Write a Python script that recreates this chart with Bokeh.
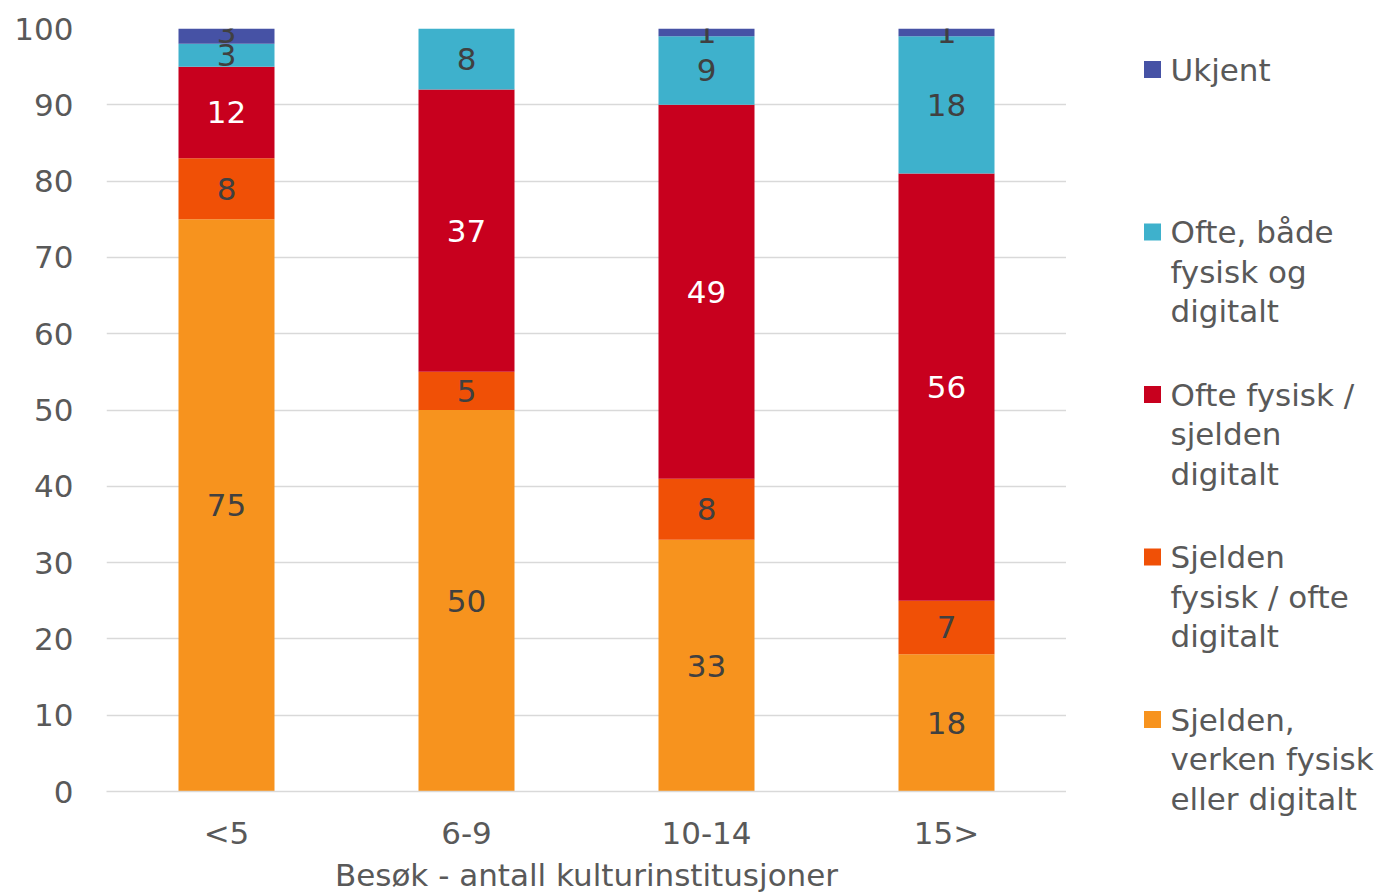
import numpy as np
from bokeh.plotting import figure
from bokeh.layouts import row
from bokeh.models import Range1d, FactorRange, FixedTicker, ColumnDataSource
from bokeh.core.properties import value
from bokeh.embed import file_html
from bokeh.resources import INLINE

categories = ["<5", "6-9", "10-14", "15>"]
series_names = [
    "Sjelden, verken fysisk eller digitalt",
    "Sjelden fysisk / ofte digitalt",
    "Ofte fysisk / sjelden digitalt",
    "Ofte, både fysisk og digitalt",
    "Ukjent",
]
sjelden_verken = [75, 50, 33, 18]
sjelden_fysisk_ofte_digitalt = [8, 5, 8, 7]
ofte_fysisk_sjelden_digitalt = [12, 37, 49, 56]
ofte_begge = [3, 8, 9, 18]
ukjent = [3, 0, 1, 1]
y_ticks = [0, 10, 20, 30, 40, 50, 60, 70, 80, 90, 100]

legend_lines = [
    ["Ukjent"],
    ["Ofte, både", "fysisk og", "digitalt"],
    ["Ofte fysisk /", "sjelden", "digitalt"],
    ["Sjelden", "fysisk / ofte", "digitalt"],
    ["Sjelden,", "verken fysisk", "eller digitalt"],
]

colors = ["#F7931E", "#F05006", "#C8001E", "#3EB1CC", "#4652A5"]
label_colors = ["#404040", "#404040", "#FFFFFF", "#404040", "#404040"]
FONT = "DejaVu Sans"
FS = "31px"

series = [sjelden_verken, sjelden_fysisk_ofte_digitalt, ofte_fysisk_sjelden_digitalt, ofte_begge, ukjent]
keys = ["s0", "s1", "s2", "s3", "s4"]
data = {"cat": categories}
for k, s in zip(keys, series):
    data[k] = s
source = ColumnDataSource(data)

H = 896
TOP, BOTTOM = 28, 105
p = figure(
    x_range=FactorRange(*categories, range_padding=0),
    y_range=Range1d(0, 100),
    width=1066, height=H,
    min_border_left=106, min_border_top=TOP, min_border_right=0, min_border_bottom=BOTTOM,
    output_backend="svg", toolbar_location=None,
)
p.frame_align = False
p.vbar_stack(keys, x="cat", width=0.4, color=colors, line_color=None, source=source)

# data labels
arr = np.array(series, dtype=float)
cum = np.cumsum(arr, axis=0)
xs, ys, txt, tc = [], [], [], []
for i in range(arr.shape[0]):
    for j, c in enumerate(categories):
        v = arr[i, j]
        if v <= 0:
            continue
        xs.append(c)
        ys.append(cum[i, j] - v / 2)
        txt.append(str(int(v)))
        tc.append(label_colors[i])
p.text(x=xs, y=ys, text=txt, text_color=tc, text_align="center", text_baseline="middle",
       text_font=value(FONT), text_font_size=FS)

p.outline_line_color = None
p.xgrid.grid_line_color = None
p.ygrid.grid_line_color = "#D9D9D9"
p.ygrid.grid_line_width = 1.5
p.yaxis.ticker = FixedTicker(ticks=y_ticks)
p.yaxis.axis_line_color = None
p.yaxis.major_tick_line_color = None
p.yaxis.minor_tick_line_color = None
p.yaxis.major_label_standoff = 27
p.yaxis.major_label_text_font = FONT
p.yaxis.major_label_text_font_size = FS
p.yaxis.major_label_text_color = "#595959"

p.xaxis.axis_line_color = "#D9D9D9"
p.xaxis.axis_line_width = 1.5
p.xaxis.major_tick_line_color = None
p.xaxis.minor_tick_line_color = None
p.xaxis.major_label_standoff = 17
p.xaxis.major_label_text_font = FONT
p.xaxis.major_label_text_font_size = FS
p.xaxis.major_label_text_color = "#595959"
p.xaxis.axis_label = "Besøk - antall kulturinstitusjoner"
p.xaxis.axis_label_text_font = FONT
p.xaxis.axis_label_text_font_size = FS
p.xaxis.axis_label_text_font_style = "normal"
p.xaxis.axis_label_text_color = "#595959"
p.xaxis.axis_label_standoff = 3

# legend panel: its own full-height frame, y range maps page pixels
LW = 1387 - 1066
lg = figure(width=LW, height=H, x_range=Range1d(0, LW), y_range=Range1d(H, 0),
            min_border=0, output_backend="svg", toolbar_location=None)
lg.frame_align = False
lg.axis.visible = False
lg.grid.visible = False
lg.outline_line_color = None
item_y0, item_step, line_step = 69, 162.5, 39.5
sq_x, txt_x, sq = 86, 104, 17
leg_colors = colors[::-1]
lx, ly, lt = [], [], []
for i, lines in enumerate(legend_lines):
    yc = item_y0 + i * item_step
    lg.rect(x=[sq_x], y=[yc], width=sq, height=sq, color=leg_colors[i], line_color=None)
    for k, t in enumerate(lines):
        lx.append(txt_x)
        ly.append(yc + k * line_step)
        lt.append(t)
lg.text(x=lx, y=ly, text=lt, text_color="#595959", text_align="left", text_baseline="middle",
        text_font=value(FONT), text_font_size=FS)

layout = row(p, lg)
open("out.html", "w").write(file_html(layout, INLINE))
